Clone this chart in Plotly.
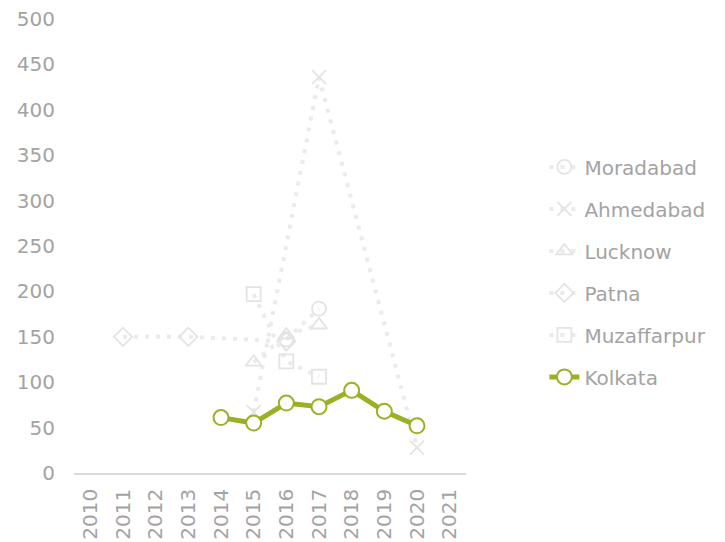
import plotly.graph_objects as go

years = [str(y) for y in range(2010, 2022)]

# values per year, None where the city has no reading
moradabad = [None, None, None, None, None, None, 147, 181, None, None, None, None]
ahmedabad = [None, None, None, None, None, 67, None, 436, None, None, 28, None]
lucknow = [None, None, None, None, None, 122, 152, 163, None, None, None, None]
patna = [None, 150, None, 150, None, None, 145, None, None, None, None, None]
muzaffarpur = [None, None, None, None, None, 197, 123, 106, None, None, None, None]
kolkata = [None, None, None, None, 61, 55, 77, 73, 91, 68, 52, None]

faded = "#ebebeb"
faded_marker = "#e4e4e4"
green = "#9bb024"
text_grey = "#a3a3a3"

faded_series = [
    ("Moradabad", moradabad, "circle-open"),
    ("Ahmedabad", ahmedabad, "x-thin-open"),
    ("Lucknow", lucknow, "triangle-up-open"),
    ("Patna", patna, "diamond-open"),
    ("Muzaffarpur", muzaffarpur, "square-open"),
]

fig = go.Figure()

for name, vals, sym in faded_series:
    fig.add_trace(go.Scatter(
        x=years, y=vals, name=name, mode="lines+markers",
        connectgaps=True, legendgroup=name,
        line=dict(color=faded, width=4, dash="4px,7px"),
        marker=dict(symbol=sym, size=14, color=faded_marker,
                    line=dict(color=faded_marker, width=1.8)),
    ))

fig.add_trace(go.Scatter(
    x=years, y=kolkata, name="Kolkata", mode="lines+markers",
    connectgaps=True, legendgroup="Kolkata",
    line=dict(color=green, width=5),
    marker=dict(symbol="circle", size=15, color="white",
                line=dict(color=green, width=2)),
))

# the page body adds an 8px offset, so margins are shifted to compensate
fig.update_layout(
    width=725, height=542,
    margin=dict(l=66, r=267, t=11, b=77, autoexpand=False),
    paper_bgcolor="white", plot_bgcolor="white",
    font=dict(family="DejaVu Sans, sans-serif", size=20, color=text_grey),
    legend=dict(x=1.20, xanchor="left", y=0.443, yanchor="middle",
                tracegroupgap=13, font=dict(size=20, color=text_grey)),
)

fig.update_xaxes(
    type="category", range=[-0.5, 11.5], tickangle=-90, automargin=False,
    showgrid=False, showline=True, linecolor="#d9d9d9", linewidth=1.5,
    ticks="", ticklabelstandoff=6, tickfont=dict(size=20, color=text_grey),
)
fig.update_yaxes(
    range=[0, 500], dtick=50, showgrid=False, zeroline=False, automargin=False,
    showline=False, ticks="", ticklabelstandoff=18, ticklabeloverflow="allow",
    tickfont=dict(size=20, color=text_grey),
)

fig.write_html("out.html")
